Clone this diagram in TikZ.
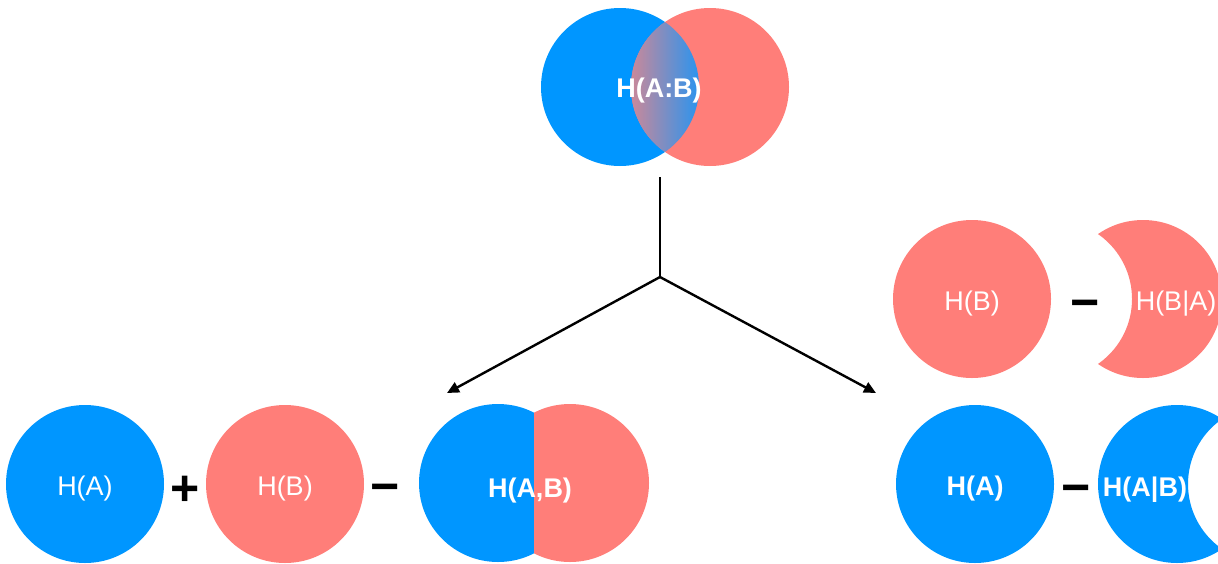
\documentclass[tikz,border=0pt]{standalone}
\usepackage{fontspec}
\setmainfont{Liberation Sans}
\usetikzlibrary{arrows.meta}
\definecolor{cblue}{RGB}{0,150,255}
\definecolor{cred}{RGB}{255,126,121}
\definecolor{lensl}{RGB}{205,136,152}
\definecolor{lensr}{RGB}{40,148,240}
\begin{document}
\begin{tikzpicture}[x=1pt,y=-1pt,
  lbl/.style={text=white,font=\fontsize{27}{30}\selectfont,inner sep=0pt,text height=19.3pt,text depth=0pt},
  lblb/.style={lbl,font=\fontsize{27}{30}\selectfont\bfseries},
  op/.style={text=black,font=\fontsize{50}{56}\selectfont\bfseries,inner sep=0pt,anchor=base},
  disc/.style={circle,inner sep=0pt,minimum size=158pt},
  conn/.style={line width=2.4pt},
  arr/.style={conn,-{Triangle[length=12pt,width=11pt]}}]
\useasboundingbox (0,0) rectangle (1218,563);

% top Venn diagram
\coordinate (vb) at (620,87);
\coordinate (vr) at (710,87);
\fill[cblue] (vb) circle[radius=79pt];
\fill[cred] (vr) circle[radius=79pt];
\begin{scope}
  \clip (vb) circle[radius=79pt];
  \clip (vr) circle[radius=79pt];
  \shade[left color=lensl,right color=lensr] (630,5) rectangle (700,170);
\end{scope}
\node[lblb] (hAB) at (659,88) {H(A:B)};

% connectors
\coordinate (stem) at (660,177);
\coordinate (fork) at (660,277);
\coordinate (tipL) at (447,393);
\coordinate (tipR) at (876,393);
\draw[conn] (stem) -- (fork);
\draw[arr] (fork) -- (tipL);
\draw[arr] (fork) -- (tipR);

% bottom-left row
\node[disc,fill=cblue] (cA1) at (85,484) {};
\node[lbl] (hA1) at (85,486) {H(A)};
\node[op] (plus) at (185,505) {+};
\node[disc,fill=cred] (cB1) at (285,484) {};
\node[lbl] (hB1) at (285,486) {H(B)};
\node[op] (minus1) at (385,503) {−};
\begin{scope}
  \clip (410,390) rectangle (534.5,570);
  \fill[cblue] (498,483) circle[radius=79pt];
\end{scope}
\begin{scope}
  \clip (534,390) rectangle (660,570);
  \fill[cred] (570,483) circle[radius=79pt];
\end{scope}
\node[lblb] (hAB2) at (530,488) {H(A,B)};

% top-right row
\node[disc,fill=cred] (cB2) at (972,299) {};
\node[lbl] (hB2) at (972,301) {H(B)};
\begin{scope}[even odd rule]
  \clip (1040,200) rectangle (1240,400) (1053,299) circle[radius=79pt];
  \fill[cred] (1143,299) circle[radius=79pt];
\end{scope}
\node[op] (minus2) at (1085,319) {−};
\node[lbl] (hBgA) at (1176,301) {H(B|A)};

% bottom-right row
\node[disc,fill=cblue] (cA2) at (975,484) {};
\node[lblb] (hA2) at (975,486) {H(A)};
\begin{scope}[even odd rule]
  \clip (1090,390) rectangle (1260,580) (1267,484) circle[radius=79pt];
  \fill[cblue] (1177,484) circle[radius=79pt];
\end{scope}
\node[op] (minus3) at (1076,504) {−};
\node[lblb] (hAgB) at (1145,487) {H(A|B)};
\end{tikzpicture}
\end{document}
